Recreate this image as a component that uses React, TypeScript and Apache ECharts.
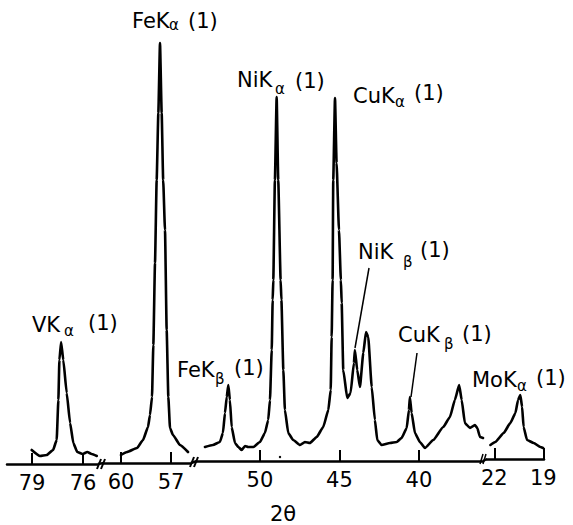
import React, { useEffect, useRef } from 'react';
import * as echarts from 'echarts';

// 2θ (degrees) and relative intensity for each axis segment
const vTheta = [79.02, 78.53, 78.14, 77.76, 77.55, 77.45, 77.39, 77.29, 77.16, 76.96, 76.76, 76.57, 76.34, 76.02, 75.75, 75.49, 75.19];
const vInt = [14, 8, 9, 14, 24, 64, 104, 122, 104, 71, 41, 21, 12, 10, 12, 10, 8];

const feTheta = [60.0, 59.64, 59.04, 58.68, 58.38, 58.26, 58.14, 58.06, 57.96, 57.86, 57.76, 57.66, 57.56, 57.47, 57.36, 57.26, 57.16, 57.06, 56.88, 56.46, 55.98];
const feInt = [8, 11, 15, 23, 36, 48, 66, 118, 200, 283, 350, 420, 350, 283, 233, 133, 66, 35, 28, 18, 11];

const midTheta = [
  53.46, 52.96, 52.52, 52.33, 52.2, 52.09, 51.99, 51.89, 51.78, 51.57, 51.36, 51.15, 50.94, 50.74, 50.42,
  50.0, 49.69, 49.48, 49.37, 49.26, 49.2, 49.16, 49.06, 48.95, 48.85, 48.7, 48.65, 48.53, 48.43, 48.22,
  47.91, 47.48, 47.17, 46.86, 46.43, 46.02, 45.7, 45.55, 45.49, 45.43, 45.39, 45.28, 45.18, 45.03, 44.91,
  44.86, 44.76, 44.51, 44.3, 44.09, 44.03, 43.88, 43.71, 43.5, 43.33, 43.19, 42.97, 42.77, 42.62, 42.35,
  41.82, 41.4, 41.09, 40.77, 40.63, 40.57, 40.46, 40.25, 39.94, 39.62, 39.1, 38.47, 38.05, 37.74, 37.47,
  37.31, 37.11, 36.79, 36.48, 36.33, 36.16, 35.97
];
const midInt = [
  14, 16, 19, 28, 48, 64, 76, 61, 34, 18, 14, 11, 15, 14, 14,
  19, 28, 41, 61, 111, 161, 181, 281, 364, 281, 181, 161, 91, 51, 28,
  21, 16, 19, 18, 24, 34, 51, 71, 124, 181, 281, 363, 298, 231, 181,
  158, 91, 63, 68, 98, 111, 91, 74, 108, 129, 124, 74, 41, 21, 16,
  18, 19, 23, 33, 51, 64, 48, 28, 19, 13, 21, 34, 44, 61, 76,
  61, 38, 33, 36, 33, 24, 23
];

const moTheta = [22.24, 21.94, 21.43, 21.02, 20.71, 20.55, 20.41, 20.3, 20.21, 20.0, 19.59, 19.18, 19.02];
const moInt = [14, 17, 26, 36, 46, 59, 64, 52, 32, 19, 16, 12, 11];

const ticks1 = [79, 76];
const ticks2 = [60, 57];
const ticks3 = [50, 45, 40];
const ticks4 = [22, 19];

const zip = (a: number[], b: number[]) => a.map((v, i) => [v, b[i]]);

const FONT = '"DejaVu Sans", sans-serif';

function peakLabel(
  main: string, mx: number, my: number,
  sub: string, sx: number, sy: number,
  px: number, py: number
) {
  return [
    { type: 'text', x: mx, y: my, style: { text: main, fontSize: 21, fontFamily: FONT, fill: '#000', verticalAlign: 'middle', align: 'left' } },
    { type: 'text', x: sx, y: sy, style: { text: sub, fontSize: 15, fontFamily: FONT, fill: '#000', verticalAlign: 'middle', align: 'left' } },
    { type: 'text', x: px, y: py, style: { text: '(1)', fontSize: 21, fontFamily: FONT, fill: '#000', verticalAlign: 'middle', align: 'left' } },
  ];
}

function segLine(x1: number, y1: number, x2: number, y2: number, w = 2.5) {
  return { type: 'line', shape: { x1, y1, x2, y2 }, style: { stroke: '#000', lineWidth: w } };
}

export default function App() {
  const ref = useRef<HTMLDivElement>(null);
  useEffect(() => {
    if (!ref.current) return;
    const chart = echarts.init(ref.current, null, { renderer: 'svg' });

    const segs = [
      { left: 7, width: 91, bottom: 464, min: 75.12, max: 80.47, ticks: ticks1 },
      { left: 104, width: 87, bottom: 463, min: 55.8, max: 61.02, ticks: ticks2 },
      { left: 197, width: 286, bottom: 461, min: 35.97, max: 53.96, ticks: ticks3 },
      { left: 487, width: 57, bottom: 459, min: 18.96, max: 22.45, ticks: ticks4 },
    ];
    const H = 420;
    const grids = segs.map((s) => ({
      left: s.left, width: s.width, top: s.bottom - H, height: H,
      containLabel: false, outerBoundsMode: 'none',
    }));
    const xAxes = segs.map((s, i) => ({
      type: 'value', gridIndex: i, inverse: true, min: s.min, max: s.max,
      axisLine: { show: true, lineStyle: { color: '#000', width: 2.5 } },
      axisTick: { show: true, inside: true, length: 11, customValues: s.ticks, lineStyle: { color: '#000', width: 2 } },
      axisLabel: { show: true, customValues: s.ticks, fontSize: 21, fontFamily: FONT, color: '#000', margin: 8 },
      splitLine: { show: false },
    }));
    const yAxes = segs.map((_, i) => ({
      type: 'value', gridIndex: i, min: 0, max: H, show: false,
    }));
    const datasets = [zip(vTheta, vInt), zip(feTheta, feInt), zip(midTheta, midInt), zip(moTheta, moInt)];
    const series = datasets.map((d, i) => ({
      type: 'line', xAxisIndex: i, yAxisIndex: i, data: d, showSymbol: false, clip: false,
      smooth: 0.15, smoothMonotone: 'x',
      lineStyle: { color: '#000', width: 2.6, join: 'round', cap: 'round' },
    }));

    const graphic: any[] = [
      ...peakLabel('VK', 32, 325, 'α', 64, 331, 88, 323),
      ...peakLabel('FeK', 132, 20.5, 'α', 169, 25, 188, 21),
      ...peakLabel('NiK', 237, 80, 'α', 275, 89, 295, 81),
      ...peakLabel('CuK', 353, 95.5, 'α', 395, 102, 414, 93),
      ...peakLabel('NiK', 358, 251.5, 'β', 403, 262, 420, 250),
      ...peakLabel('FeK', 177, 370, 'β', 215, 379, 234, 368),
      ...peakLabel('CuK', 398, 335, 'β', 444, 344, 462, 334),
      ...peakLabel('MoK', 472, 379.5, 'α', 517, 386, 536, 378),
      // leader lines
      segLine(369, 268, 355, 348, 1.5),
      segLine(417, 353, 411, 397, 1.5),
      // axis bridges across breaks
      segLine(98, 464, 104, 463),
      segLine(191, 463, 197, 461),
      segLine(483, 461, 487, 459),
      // break marks
      segLine(97, 469, 101, 459, 2),
      segLine(101, 469, 105, 459, 2),
      segLine(190, 467, 194, 457, 2),
      segLine(194, 467, 198, 457, 2),
      segLine(480, 464, 483, 454, 1.5),
      segLine(483, 464, 486, 454, 1.5),
      { type: 'circle', shape: { cx: 280, cy: 457, r: 1.2 }, style: { fill: '#000' } },
      { type: 'text', x: 283, y: 514, style: { text: '2θ', fontSize: 21, fontFamily: FONT, fill: '#000', align: 'center', verticalAlign: 'middle' } },
    ];

    chart.setOption({
      animation: false,
      backgroundColor: '#fff',
      grid: grids,
      xAxis: xAxes,
      yAxis: yAxes,
      series,
      graphic,
    });
    return () => chart.dispose();
  }, []);
  return <div ref={ref} style={{ position: 'fixed', left: 0, top: 0, width: 573, height: 525 }} />;
}
